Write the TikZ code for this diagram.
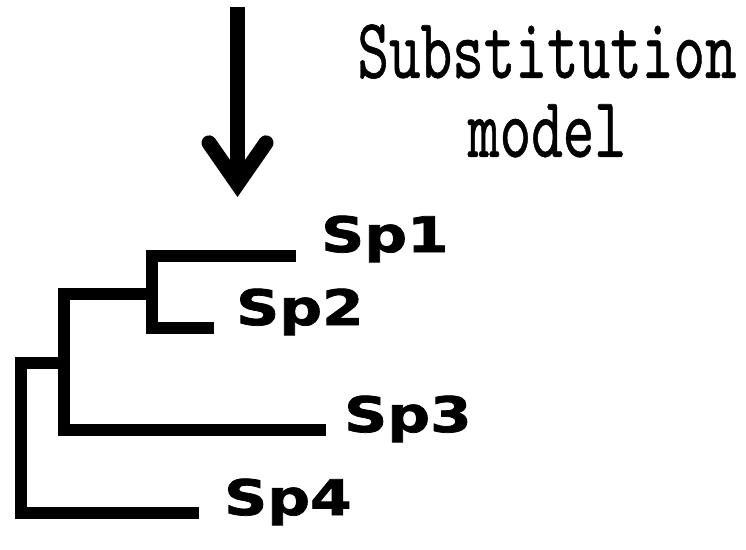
\documentclass[tikz,border=0pt]{standalone}
\usepackage{fontspec}
\newfontfamily\leaffont{DejaVu Sans}[BoldFeatures={FakeBold=1.5}]
\newfontfamily\modelfont{lmmono10-regular.otf}[FakeBold=0.7]
\usetikzlibrary{arrows.meta}
\tikzset{
  branch/.style  = {line width=12pt, line join=miter, line cap=butt},
  leaf/.style    = {font=\leaffont\bfseries\fontsize{49}{49}\selectfont,
                    anchor=base west, inner sep=0pt},
  model/.style   = {font=\modelfont\fontsize{86}{79}\selectfont, align=center,
                    inner sep=0pt, text depth=0pt, anchor=south},
  pointer/.style = {line width=15pt,
                    -{Straight Barb[length=41pt,width=57pt,line cap=round,line join=miter]}},
}
\newcommand{\widen}[1]{\scalebox{1.22}[1]{#1}}
\newcommand{\narrow}[1]{\scalebox{0.7}[1]{#1}}

\begin{document}
\begin{tikzpicture}[x=1pt,y=-1pt]
  \useasboundingbox (0,0) rectangle (746,549);
  % branch tips and inner nodes
  \coordinate (t1) at (296,256);
  \coordinate (t2) at (214,328);
  \coordinate (t3) at (326,430);
  \coordinate (t4) at (199,513);
  \coordinate (n1) at (152,294);
  \coordinate (n2) at (64,363);
  \coordinate (root) at (21,363);
  % the tree
  \draw[branch] (t1) -| (n1) |- (t2);
  \draw[branch] (n1) -| (n2) |- (t3);
  \draw[branch] (n2) -- (root) |- (t4);
  \node[leaf] (sp1) at (321,252) {\widen{Sp1}};
  \node[leaf] (sp2) at (236,325) {\widen{Sp2}};
  \node[leaf] (sp3) at (344,432) {\widen{Sp3}};
  \node[leaf] (sp4) at (224,515) {\widen{Sp4}};
  % model feeding into the tree
  \node[model] (subst) at (547,157) {\narrow{Substitution}\\\narrow{model}};
  \coordinate (src) at (237.5,7);
  \coordinate (dst) at (237.5,197);
  \draw[pointer] (src) -- (dst);
\end{tikzpicture}
\end{document}
